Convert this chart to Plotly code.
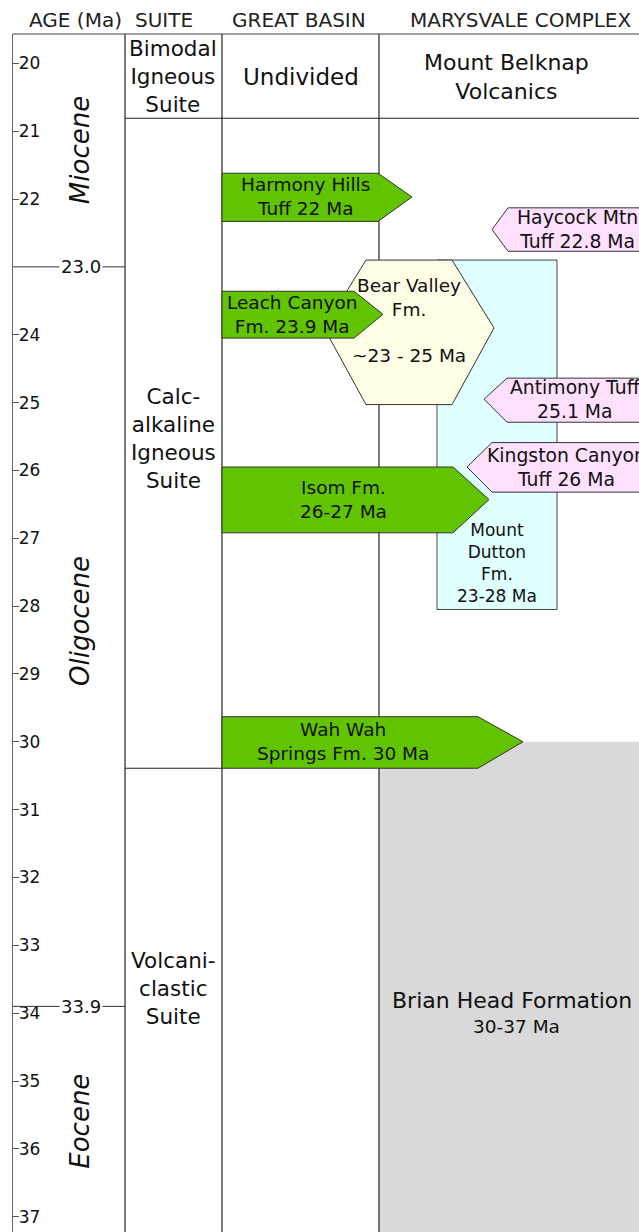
import plotly.graph_objects as go

# ---------------- data (ages in Ma) ----------------
tick_ages = [20, 21, 22, 24, 25, 26, 27, 28, 29, 30, 31, 32, 33, 34, 35, 36, 37]
epoch_names = ["Miocene", "Oligocene", "Eocene"]
epoch_label_ages = [21.28, 28.22, 35.6]
epoch_boundaries = [23.0, 33.9]
epoch_boundary_labels = ["23.0", "33.9"]

suite_names = ["Bimodal<br>Igneous<br>Suite", "Calc-<br>alkaline<br>Igneous<br>Suite",
               "Volcani-<br>clastic<br>Suite"]
suite_label_ages = [20.195, 25.53, 33.64]
suite_boundaries = [20.81, 30.39]

column_headers = ["AGE (Ma)", "SUITE", "GREAT BASIN", "MARYSVALE COMPLEX"]
top_cells = ["Undivided", "Mount Belknap<br>Volcanics"]

gb_units = ["Harmony Hills<br>Tuff 22 Ma", "Leach Canyon<br>Fm. 23.9 Ma",
            "Isom Fm.<br>26-27 Ma", "Wah Wah<br>Springs Fm. 30 Ma"]
gb_top = [21.62, 23.36, 25.95, 29.63]
gb_bottom = [22.33, 24.05, 26.92, 30.39]
gb_tip = [21.97, 23.70, 26.43, 30.00]

mv_tuffs = ["Haycock Mtn<br>Tuff 22.8 Ma", "Antimony Tuff<br>25.1 Ma",
            "Kingston Canyon<br>Tuff 26 Ma"]
mv_top = [22.13, 24.64, 25.59]
mv_bottom = [22.77, 25.29, 26.32]
mv_tip = [22.45, 24.95, 25.95]

bear_valley = {"name": "Bear Valley<br>Fm.", "range": "~23 - 25 Ma"}
bv_ages = [22.9, 23.9, 25.03]          # top, widest point, bottom
mount_dutton = "Mount<br>Dutton<br>Fm.<br>23-28 Ma"
md_ages = [22.9, 28.05]
brian_head = ["Brian Head Formation", "30-37 Ma"]
bh_ages = [30.0, 37.3]

# ---------------- layout / styles ----------------
W, H = 639, 1232
X_LEFT, X_SUITE, X_GB, X_MV, X_RIGHT = 13, 125, 222, 379, 639
FONT = "DejaVu Sans"
TXT = "#111111"
GREEN = "#62c400"
PINK = "#ffe0ff"
CYAN = "#e0ffff"
YELLOW = "#fffde6"
GRAY = "#d9d9d9"
EDGE = "#333333"
Y_TOP, Y_BOT = 19.568, 37.225

gb_shoulder_x = [378, 354, 453, 478]
gb_tip_x = [412, 383, 489, 523]
gb_text_x = [305, 292, 343, 343]
mv_tip_x = [492, 484, 467]
mv_shoulder_x = [508, 507, 492]
mv_text_x = [577, 575, 566]

fig = go.Figure()
shapes = []
ann = []


def label(x, y, text, size, xref="x", yref="y", **kw):
    d = dict(x=x, y=y, xref=xref, yref=yref, text=text, showarrow=False,
             font=dict(family=FONT, size=size, color=kw.pop("color", TXT)),
             xanchor="center", yanchor="middle")
    d.update(kw)
    ann.append(d)


# Brian Head grey box
shapes.append(dict(type="rect", xref="x", yref="y", x0=X_MV, x1=X_RIGHT + 5,
                   y0=bh_ages[0], y1=bh_ages[1], fillcolor=GRAY, line=dict(width=0)))

# frame lines
line_dark = dict(color="#222222", width=1.2)
shapes.append(dict(type="line", xref="x", yref="paper", x0=X_LEFT, x1=X_RIGHT + 5, y0=1, y1=1,
                   line=dict(color="#444444", width=1.2)))
for xv in (X_SUITE, X_GB, X_MV):
    shapes.append(dict(type="line", xref="x", yref="paper", x0=xv, x1=xv, y0=0, y1=1, line=line_dark))
shapes.append(dict(type="line", xref="x", yref="y", x0=X_SUITE, x1=X_RIGHT + 5,
                   y0=suite_boundaries[0], y1=suite_boundaries[0], line=line_dark))
shapes.append(dict(type="line", xref="x", yref="y", x0=X_SUITE, x1=X_GB,
                   y0=suite_boundaries[1], y1=suite_boundaries[1], line=line_dark))
for b in epoch_boundaries:
    shapes.append(dict(type="line", xref="x", yref="y", x0=X_LEFT, x1=X_SUITE, y0=b, y1=b,
                       line=dict(color="#333333", width=1)))

# Mount Dutton box
shapes.append(dict(type="rect", xref="x", yref="y", x0=437, x1=557, y0=md_ages[0], y1=md_ages[1],
                   fillcolor=CYAN, line=dict(color="#444444", width=1)))

# Bear Valley hexagon
t, m, b = bv_ages
hex_path = f"M 366,{t} L 452,{t} L 494,{m} L 452,{b} L 366,{b} L 324,{m} Z"
shapes.append(dict(type="path", xref="x", yref="y", path=hex_path, fillcolor=YELLOW,
                   line=dict(color=EDGE, width=1)))

# Great Basin arrows (right-pointing)
for i in range(len(gb_units)):
    p = (f"M {X_GB},{gb_top[i]} L {gb_shoulder_x[i]},{gb_top[i]} L {gb_tip_x[i]},{gb_tip[i]} "
         f"L {gb_shoulder_x[i]},{gb_bottom[i]} L {X_GB},{gb_bottom[i]} Z")
    shapes.append(dict(type="path", xref="x", yref="y", path=p, fillcolor=GREEN,
                       line=dict(color=EDGE, width=1)))
    label(gb_text_x[i], gb_tip[i], gb_units[i], 18.5)

# Marysvale tuffs (left-pointing)
for i in range(len(mv_tuffs)):
    p = (f"M 700,{mv_top[i]} L {mv_shoulder_x[i]},{mv_top[i]} L {mv_tip_x[i]},{mv_tip[i]} "
         f"L {mv_shoulder_x[i]},{mv_bottom[i]} L 700,{mv_bottom[i]} Z")
    shapes.append(dict(type="path", xref="x", yref="y", path=p, fillcolor=PINK,
                       line=dict(color=EDGE, width=1)))
    label(mv_text_x[i], mv_tip[i], mv_tuffs[i], 18.8)

# column headers
for txt, xc in zip(column_headers, [75, 164, 299, 520]):
    label(xc, 1 + 14 / 1198, txt, 20, yref="paper", color="#222222")

# top cells
label(301, suite_label_ages[0], top_cells[0], 23)
label(506, suite_label_ages[0], top_cells[1], 22)

# suites
for name, a in zip(suite_names, suite_label_ages):
    label(173, a, name, 21.5)

# epochs
for name, a in zip(epoch_names, epoch_label_ages):
    label(80, a, f"<i>{name}</i>", 26, textangle=-90)

# epoch boundary labels
for lab, a in zip(epoch_boundary_labels, epoch_boundaries):
    label(81, a, lab, 18, bgcolor="white", borderpad=1)

# Bear Valley text
label(409, 23.45, bear_valley["name"], 18.5)
label(409, 24.30, bear_valley["range"], 18.5)

# Mount Dutton text
label(497, 27.37, mount_dutton, 17)

# Brian Head text
label(512, 33.82, brian_head[0], 22)
label(516, 34.19, brian_head[1], 18.5)

fig.update_layout(
    width=W, height=H,
    margin=dict(l=X_LEFT, r=0, t=34, b=0),
    paper_bgcolor="white", plot_bgcolor="white",
    showlegend=False,
    shapes=shapes, annotations=ann,
    xaxis=dict(range=[X_LEFT, X_RIGHT], visible=False, showgrid=False, zeroline=False, fixedrange=True),
    yaxis=dict(range=[Y_BOT, Y_TOP], showgrid=False, zeroline=False, showline=True,
               linecolor="#666666", linewidth=1.2, ticks="inside", ticklen=6, tickcolor="#555555",
               tickvals=tick_ages, ticktext=[str(v) for v in tick_ages],
               ticklabelposition="inside", tickfont=dict(family=FONT, size=17, color=TXT),
               ticklabelstandoff=0, fixedrange=True),
)

fig.write_html("out.html", config={"displayModeBar": False},
               post_script="document.body.style.margin='0';document.body.style.overflow='hidden';")
